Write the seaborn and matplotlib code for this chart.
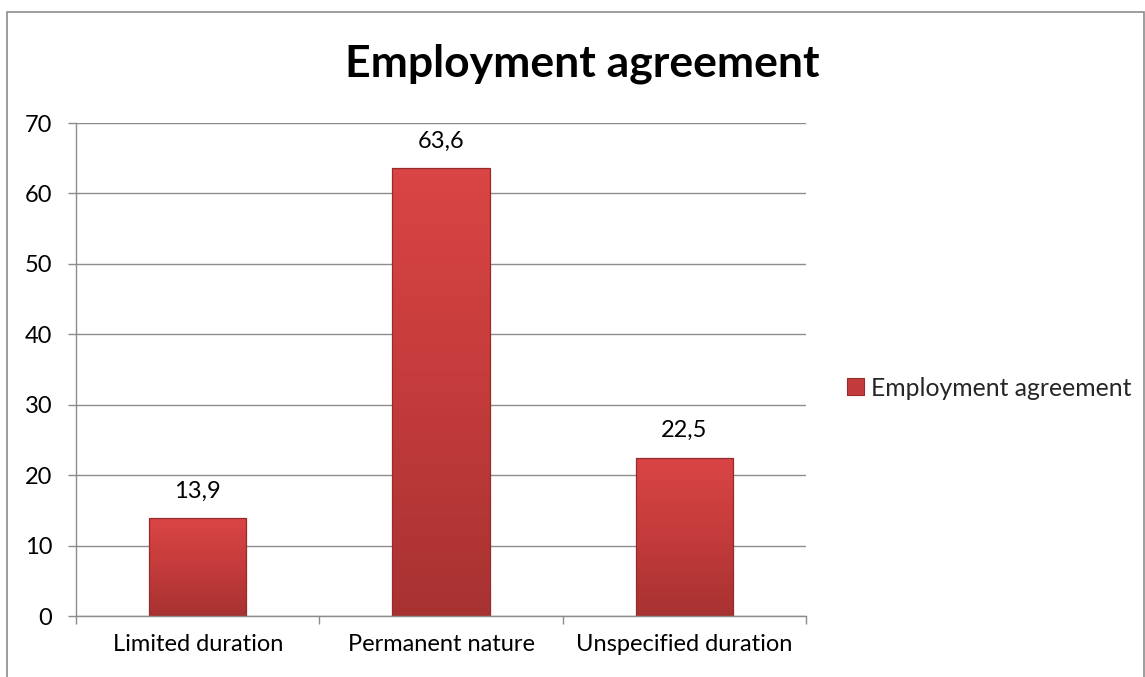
import numpy as np
import pandas as pd
import matplotlib
matplotlib.use("Agg")
import matplotlib.pyplot as plt
import seaborn as sns
from matplotlib.patches import Rectangle, Patch
from matplotlib.colors import LinearSegmentedColormap

categories = ["Limited duration", "Permanent nature", "Unspecified duration"]
values = [13.9, 63.6, 22.5]
series_name = "Employment agreement"
y_ticks = [0, 10, 20, 30, 40, 50, 60, 70]

sns.set_theme(style="white")
plt.rcParams["font.family"] = ["Lato", "DejaVu Sans"]

LABEL_SIZE = 17

df = pd.DataFrame({"category": categories, "value": values})

fig = plt.figure(figsize=(11.45, 6.77), dpi=100)
ax = fig.add_axes([0.0664, 0.0901, 0.6376, 0.7282])

sns.barplot(data=df, x="category", y="value", color="#C93B3B",
            width=0.40, ax=ax, saturation=1)

ax.set_ylim(0, 70)
ax.set_xlim(-0.5, 2.5)
ax.set_yticks(y_ticks)
ax.set_yticklabels([str(t) for t in y_ticks])
ax.set_xlabel("")
ax.set_ylabel("")

grid_color = "#8C8C8C"
ax.yaxis.grid(True, color=grid_color, linewidth=1.0)
ax.set_axisbelow(True)
for side in ["top", "right"]:
    ax.spines[side].set_visible(False)
for side in ["left", "bottom"]:
    ax.spines[side].set_visible(True)
    ax.spines[side].set_color(grid_color)
    ax.spines[side].set_linewidth(1.0)

ax.tick_params(axis="y", which="major", length=6, width=1.0, color=grid_color,
               direction="out", pad=11, labelsize=LABEL_SIZE, labelcolor="black", left=True)
ax.tick_params(axis="x", which="major", length=0, pad=13, labelsize=LABEL_SIZE,
               labelcolor="black", bottom=True)
ax.set_xticks([-0.5, 0.5, 1.5, 2.5], minor=True)
ax.tick_params(axis="x", which="minor", length=6, width=1.0, color=grid_color,
               direction="out", bottom=True)

# vertical red gradient clipped to each bar: lighter at the top, darker at the base
cmap = LinearSegmentedColormap.from_list("bar", ["#A83232", "#C43B3B", "#DA4545"])
grad = np.linspace(0, 1, 256).reshape(-1, 1)
for patch in ax.patches:
    x0, y0 = patch.get_x(), patch.get_y()
    w, h = patch.get_width(), patch.get_height()
    patch.set_edgecolor("none")
    im = ax.imshow(grad, cmap=cmap, aspect="auto", origin="lower",
                   extent=[x0, x0 + w, y0, y0 + h], zorder=patch.get_zorder() + 0.1,
                   interpolation="bilinear")
    im.set_clip_path(patch)
    ax.add_patch(Rectangle((x0, y0), w, h, fill=False, edgecolor="#962B2B",
                           linewidth=0.9, zorder=patch.get_zorder() + 0.2))

ax.set_xlim(-0.5, 2.5)
ax.set_ylim(0, 70)

for i, v in enumerate(values):
    ax.annotate(f"{v:.1f}".replace(".", ","), xy=(i, v), xytext=(0, 12),
                textcoords="offset points", ha="center", va="bottom",
                fontsize=LABEL_SIZE, color="black")

fig.text(582 / 1145, 1 - 76 / 677, series_name, ha="center", va="baseline",
         fontsize=32, fontweight="bold", color="black")

handle = Patch(facecolor="#C43B3B", edgecolor="#962B2B", linewidth=0.8)
fig.legend([handle], [series_name], loc="center left",
           bbox_to_anchor=(847 / 1145, 1 - 388 / 677), frameon=False,
           fontsize=17.8, handlelength=0.68, handleheight=0.68, handletextpad=0.3,
           borderaxespad=0, borderpad=0)

# outer chart frame
fig.patches.append(Rectangle((7 / 1145, -0.01), 1136.5 / 1145, 1 - 12 / 677 + 0.01,
                             transform=fig.transFigure, fill=False,
                             edgecolor="#8C8C8C", linewidth=1.2))

fig.savefig("out.png", dpi=100)
